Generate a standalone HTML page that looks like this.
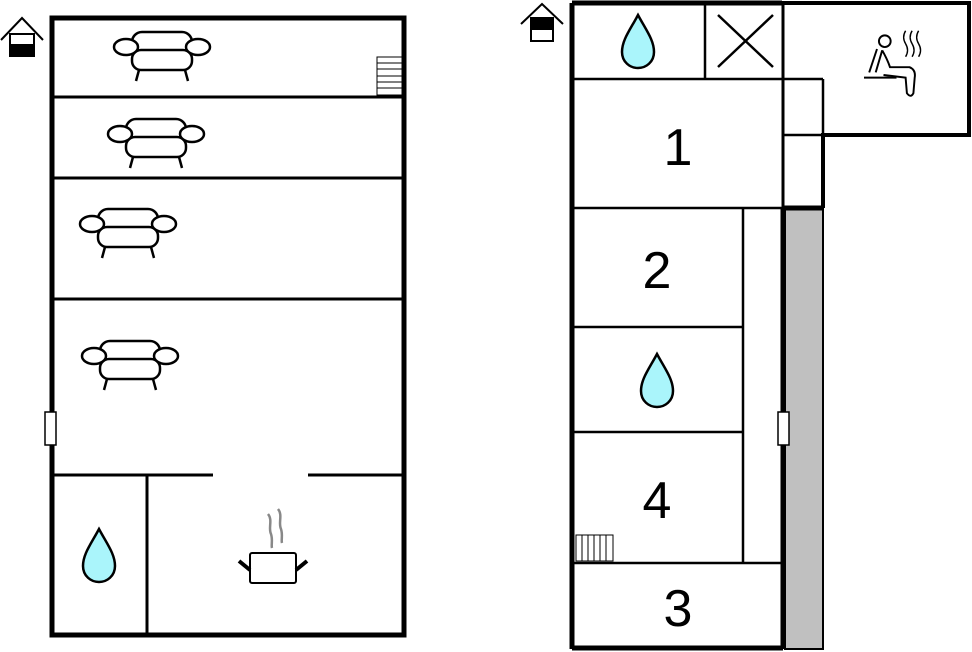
<!DOCTYPE html>
<html><head><meta charset="utf-8"><style>html,body{margin:0;padding:0;background:#fff;}svg{display:block}</style></head><body>
<svg width="972" height="652" viewBox="0 0 972 652" xmlns="http://www.w3.org/2000/svg">
<defs>
<g id="sofa" fill="#fff" stroke="#000" stroke-width="2.5">
<rect x="-30" y="-22" width="60" height="24" rx="10"/>
<rect x="-30" y="-4" width="60" height="20" rx="9"/>
<ellipse cx="-36" cy="-7" rx="12" ry="8"/>
<ellipse cx="36" cy="-7" rx="12" ry="8"/>
<line x1="-23" y1="16" x2="-26" y2="27"/><line x1="23" y1="16" x2="26" y2="27"/>
</g>
<path id="drop" d="M0,-27 C8,-12 16,-2 16,10 C16,20 8,26 0,26 C-8,26 -16,20 -16,10 C-16,-2 -8,-12 0,-27Z" fill="#aaf5fb" stroke="#000" stroke-width="2.5"/>
</defs>
<g fill="none" stroke="#000">
<rect x="52" y="18" width="352" height="617" stroke-width="5"/>
<g stroke-width="3">
<line x1="52" y1="97" x2="404" y2="97"/>
<line x1="52" y1="178" x2="404" y2="178"/>
<line x1="52" y1="299" x2="404" y2="299"/>
<line x1="52" y1="475" x2="213" y2="475"/>
<line x1="308" y1="475" x2="404" y2="475"/>
<line x1="147" y1="475" x2="147" y2="635"/>
</g>
</g>
<rect x="45" y="412" width="11" height="33" fill="#fff" stroke="#000" stroke-width="1.5"/>
<g stroke="#000" stroke-width="1" fill="#fff"><rect x="377" y="57" width="25" height="38"/>
<line x1="377" y1="63" x2="402" y2="63"/><line x1="377" y1="69" x2="402" y2="69"/><line x1="377" y1="76" x2="402" y2="76"/><line x1="377" y1="82" x2="402" y2="82"/><line x1="377" y1="88" x2="402" y2="88"/></g>
<use href="#sofa" x="162" y="54"/>
<use href="#sofa" x="156" y="141"/>
<use href="#sofa" x="128" y="231"/>
<use href="#sofa" x="130" y="363"/>
<use href="#drop" x="99" y="556"/>
<g stroke="#000" stroke-width="2" fill="#fff">
<rect x="250" y="553" width="46" height="30" rx="2"/>
<line x1="250" y1="570" x2="239" y2="561" stroke-width="4"/>
<line x1="296" y1="570" x2="307" y2="561" stroke-width="4"/>
</g>
<g stroke="#888" stroke-width="2.5" fill="none">
<path d="M268,514 C273,520 268,528 271,534 C273,540 271,545 272,548"/>
<path d="M278,509 C283,515 278,523 281,529 C283,535 281,540 282,543"/>
</g>
<g stroke="#000" stroke-width="2" fill="none"><polyline points="1,40 22,18 43,40"/><rect x="10" y="34" width="24" height="22" fill="#fff"/></g>
<rect x="10" y="44" width="24" height="12" fill="#000"/>
<rect x="785" y="208" width="38" height="441" fill="#c0c0c0" stroke="#000" stroke-width="2"/>
<g fill="none" stroke="#000">
<polyline points="782,3 969,3 969,135 823,135 823,208" stroke-width="4"/>
<polyline points="572,3 782,3" stroke-width="5"/>
<line x1="572" y1="3" x2="572" y2="649" stroke-width="5"/>
<line x1="572" y1="648" x2="783" y2="648" stroke-width="5"/>
<line x1="783" y1="3" x2="783" y2="649" stroke-width="3"/>
<line x1="783" y1="208" x2="783" y2="649" stroke-width="5"/>
<line x1="782" y1="208" x2="824" y2="208" stroke-width="5"/>
<g stroke-width="2.5">
<line x1="572" y1="79" x2="823" y2="79"/>
<line x1="823" y1="79" x2="823" y2="135"/>
<line x1="783" y1="135" x2="823" y2="135"/>
<line x1="705" y1="3" x2="705" y2="79"/>
<line x1="572" y1="208" x2="783" y2="208"/>
<line x1="572" y1="327" x2="743" y2="327"/>
<line x1="572" y1="432" x2="743" y2="432"/>
<line x1="743" y1="208" x2="743" y2="563"/>
<line x1="572" y1="563" x2="783" y2="563"/>
<line x1="718" y1="15" x2="773" y2="67"/><line x1="773" y1="15" x2="718" y2="67"/>
</g>
</g>
<rect x="778" y="412" width="11" height="33" fill="#fff" stroke="#000" stroke-width="1.5"/>
<g stroke="#000" stroke-width="1" fill="#fff"><rect x="576" y="535" width="37" height="26"/>
<line x1="582" y1="535" x2="582" y2="561"/><line x1="588" y1="535" x2="588" y2="561"/><line x1="594" y1="535" x2="594" y2="561"/><line x1="600" y1="535" x2="600" y2="561"/><line x1="606" y1="535" x2="606" y2="561"/></g>
<use href="#drop" x="638" y="42"/>
<use href="#drop" x="657" y="381"/>
<g transform="translate(890,62) scale(1.3) translate(-890,-62)">
<g stroke="#000" stroke-width="1.5" fill="none">
<circle cx="886" cy="46" r="4.5"/>
<path d="M880,52 L874,70 M884,53 L879,70 M884,53 Q888,60 890,66 L905,66 Q910,68 909,74 L908,86 Q906,90 903,86 L902,74 L885,72"/>
<line x1="870" y1="74" x2="895" y2="74"/>
<path d="M902,38 q-3,5 0,10 q3,5 0,10 M907,38 q-3,5 0,10 q3,5 0,10 M912,38 q-3,5 0,10 q3,5 0,10" stroke-width="1.1"/>
</g>
</g>
<g stroke="#000" stroke-width="2" fill="none"><polyline points="521,24 542,4 563,24"/><rect x="531" y="18" width="22" height="23" fill="#fff"/></g>
<rect x="531" y="18" width="22" height="12" fill="#000"/>
<g font-family="Liberation Sans, sans-serif" font-size="52" text-anchor="middle" fill="#000">
<text x="678" y="165">1</text>
<text x="657" y="288">2</text>
<text x="657" y="518">4</text>
<text x="678" y="626">3</text>
</g>
</svg>
</body></html>
